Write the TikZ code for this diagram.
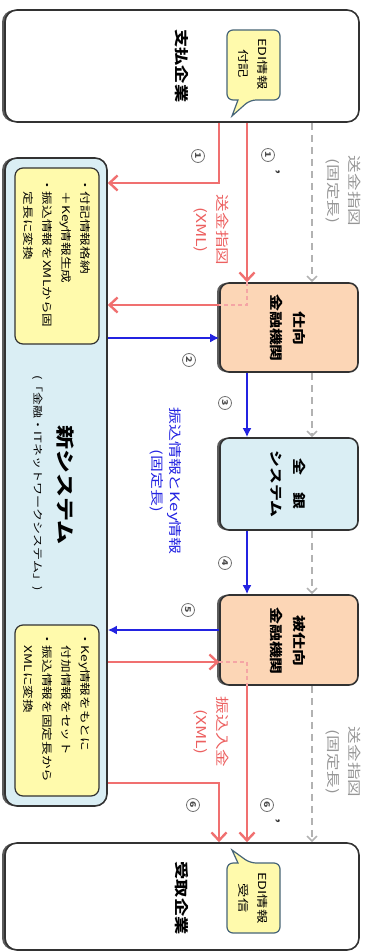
\documentclass[tikz,border=0pt]{standalone}
\usepackage{fontspec}
\newfontfamily\jp[FakeStretch=1.3]{Noto Sans CJK JP}
\usetikzlibrary{arrows.meta,shadows}
\definecolor{redl}{RGB}{240,112,112}
\definecolor{redd}{RGB}{245,165,165}
\definecolor{redt}{RGB}{236,96,96}
\definecolor{bluel}{RGB}{35,35,225}
\definecolor{grayl}{RGB}{178,178,178}
\definecolor{grayt}{RGB}{150,150,150}
\definecolor{orng}{RGB}{252,214,182}
\definecolor{lblue}{RGB}{218,238,244}
\definecolor{yel}{RGB}{255,250,172}
\definecolor{bord}{RGB}{50,50,50}
\definecolor{bubb}{RGB}{70,100,120}
\begin{document}
\begin{tikzpicture}[x=1pt,y=-1pt,
  box/.style={draw=bord, line width=1.6pt, rounded corners=9pt, inner sep=0pt},
  shadowL/.style={drop shadow={shadow xshift=-3pt, shadow yshift=0pt, fill=black!75, opacity=0.85}},
  title/.style={rotate=-90, inner sep=0pt, font=\jp\bfseries\fontsize{14}{16}\selectfont},
  boxlab/.style={rotate=-90, inner sep=0pt, align=center, font=\jp\bfseries\fontsize{13}{23}\selectfont},
  edgelab/.style={rotate=-90, inner sep=0pt, align=center, font=\jp\fontsize{13.5}{21}\selectfont},
  ytext/.style={rotate=-90, inner sep=0pt, anchor=west, align=left, font=\jp\fontsize{10.5}{19}\selectfont},
  btext/.style={rotate=-90, inner sep=0pt, align=center, font=\jp\fontsize{11}{19}\selectfont},
  numc/.style={circle, draw=black!55, line width=0.8pt, inner sep=0pt, minimum size=13pt, rotate=-90, text=black!70, font=\jp\bfseries\fontsize{8}{8}\selectfont},
  primem/.style={rotate=-90, inner sep=0pt, text=black!80, font=\jp\bfseries\fontsize{11}{11}\selectfont},
  redarr/.style={draw=redl, line width=2.4pt, -{Straight Barb[length=8pt,width=15pt]}},
  bluearr/.style={draw=bluel, line width=2.2pt, -{Latex[length=9pt,width=9pt]}},
  grayarr/.style={draw=grayl, line width=1.6pt, dash pattern=on 7pt off 5pt, -{Straight Barb[length=5pt,width=10pt]}},
  reddash/.style={draw=redd, line width=1.6pt, dash pattern=on 4pt off 3pt}
]
\useasboundingbox (0,0) rectangle (370,952);

% boxes
\node[box, fill=white, shadowL, minimum width=354pt, minimum height=112pt, rounded corners=12pt] (payer) at (182,66) {};
\node[box, fill=white, shadowL, minimum width=354pt, minimum height=107pt, rounded corners=12pt] (payee) at (182,896.5) {};
\node[box, fill=lblue, shadowL, minimum width=102pt, minimum height=648pt, rounded corners=12pt] (newsys) at (56,482) {};
\node[box, fill=yel, line width=1.2pt, minimum width=84pt, minimum height=176pt, rounded corners=8pt] (ybox1) at (57,256) {};
\node[box, fill=yel, line width=1.2pt, minimum width=84pt, minimum height=171pt, rounded corners=8pt] (ybox2) at (57,710.5) {};
\node[box, fill=orng, shadowL, minimum width=138pt, minimum height=89pt] (shimuke) at (289,327.5) {};
\node[box, fill=lblue, shadowL, minimum width=138pt, minimum height=92pt] (zengin) at (289,484) {};
\node[box, fill=orng, shadowL, minimum width=138pt, minimum height=90pt] (hishimuke) at (289,640) {};

% speech bubbles
\filldraw[fill=yel, draw=bubb, line width=1.2pt, rounded corners=6pt]
  (227,30) -- (280,30) -- (280,100) -- (250,100) [sharp corners] -- (232,116) -- (238,100) [rounded corners=6pt] -- (227,100) -- cycle;
\filldraw[fill=yel, draw=bubb, line width=1.2pt, rounded corners=6pt]
  (227,933) -- (280,933) -- (280,863) -- (250,863) [sharp corners] -- (232,850) -- (238,863) [rounded corners=6pt] -- (227,863) -- cycle;

% texts
\node[title] (tpayer) at (182,66) {支払企業};
\node[title] (tpayee) at (182,898) {受取企業};
\node[btext] (bub1) at (253,64) {EDI情報\\付記};
\node[btext] (bub2) at (253,898) {EDI情報\\受信};
\node[boxlab] (tshim) at (288,328) {仕向\\金融機関};
\node[boxlab] (tzen) at (288,484) {全　銀\\システム};
\node[boxlab] (thish) at (288,641) {被仕向\\金融機関};
\node[rotate=-90, inner sep=0pt, font=\jp\bfseries\fontsize{18.5}{20}\selectfont] (tnew) at (65,485) {新システム};
\node[rotate=-90, inner sep=0pt, font=\jp\fontsize{10}{12}\selectfont] (tnew2) at (38,483) {(「金融・ITネットワークシステム」)};
\node[ytext] (ytx1) at (57,178) {・付記情報格納\\\phantom{・}＋Key情報生成\\・振込情報をXMLから固\\\phantom{・}定長に変換};
\node[ytext] (ytx2) at (57,632) {・Key情報をもとに\\\phantom{・}付加情報をセット\\・振込情報を固定長から\\\phantom{・}XMLに変換};

% edge labels
\node[edgelab, text=grayt] (lg1) at (343,191) {送金指図\\(固定長)};
\node[edgelab, text=grayt] (lg2) at (343,762) {送金指図\\(固定長)};
\node[edgelab, text=redt] (lr1) at (211,230) {送金指図\\(XML)};
\node[edgelab, text=redt] (lr2) at (211,732) {振込入金\\(XML)};
\node[edgelab, text=bluel, font=\jp\fontsize{13}{18}\selectfont] (lb) at (166,481) {振込情報とKey情報\\(固定長)};

% column / row helpers
\coordinate (cA) at (219,0);
\coordinate (cB) at (247,0);
\coordinate (cG) at (312,0);
\coordinate (r1) at (0,183);
\coordinate (r2) at (0,305);
\coordinate (r3) at (0,338);
\coordinate (r5) at (0,630);
\coordinate (r6) at (0,662);
\coordinate (r7) at (0,783);

% gray dashed flow
\draw[grayarr] (cG |- payer.south) -- (cG |- shimuke.north);
\draw[grayarr] (cG |- shimuke.south) -- (cG |- zengin.north);
\draw[grayarr] (cG |- zengin.south) -- (cG |- hishimuke.north);
\draw[grayarr] (cG |- hishimuke.south) -- (cG |- payee.north);

% red flows
\draw[redarr] (cA |- payer.south) |- (newsys.east |- r1);
\draw[redarr] (cB |- payer.south) -- (cB |- shimuke.north);
\draw[reddash] (cB |- shimuke.north) |- (shimuke.west |- r2);
\draw[redarr] (shimuke.west |- r2) -- (newsys.east |- r2);
\draw[redarr] (newsys.east |- r6) -- (hishimuke.west |- r6);
\draw[reddash] (hishimuke.west |- r6) -| (cB |- hishimuke.south);
\draw[redarr] (cB |- hishimuke.south) -- (cB |- payee.north);
\draw[redarr] (newsys.east |- r7) -| (cA |- payee.north);

% blue flows
\draw[bluearr] (newsys.east |- r3) -- (shimuke.west |- r3);
\draw[bluearr] (cB |- shimuke.south) -- (cB |- zengin.north);
\draw[bluearr] (cB |- zengin.south) -- (cB |- hishimuke.north);
\draw[bluearr] (hishimuke.west |- r5) -- (newsys.east |- r5);

% step numbers
\node[numc] (n1) at (198,156) {1};
\node[numc] (n1p) at (268,155) {1};
\node[primem] (n1pm) at (276,172) {’};
\node[numc] (n2) at (189,360) {2};
\node[numc] (n3) at (225,403) {3};
\node[numc] (n4) at (225,563) {4};
\node[numc] (n5) at (188,610) {5};
\node[numc] (n6) at (193,805) {6};
\node[numc] (n6p) at (267,805) {6};
\node[primem] (n6pm) at (276,821) {’};
\end{tikzpicture}
\end{document}
